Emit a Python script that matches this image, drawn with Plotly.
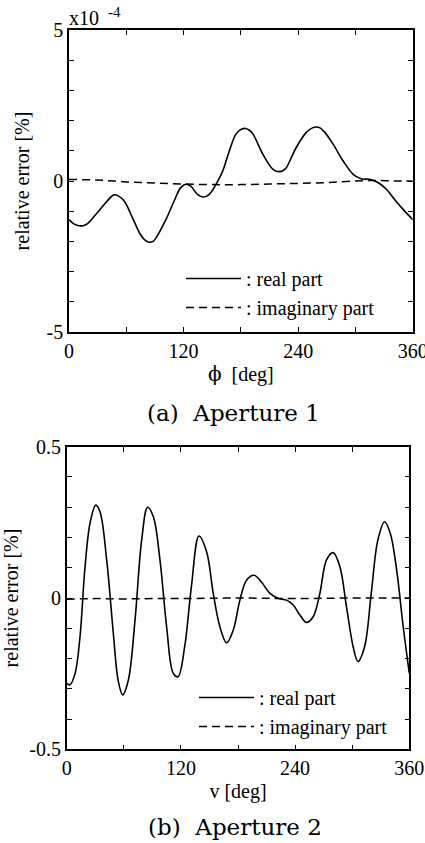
import plotly.graph_objects as go

# ---------------- data ----------------
# (a) Aperture 1, values in units of 1e-4 %
phi_real = [0, 5, 10.5, 15, 19, 28, 38.5, 47, 52, 58, 66.5, 75, 80, 84, 88, 91, 101.5, 110, 117,
            122.5, 127.5, 134.5, 140.7, 147, 154, 161, 168, 175, 181, 185, 189, 192.6, 203, 212,
            216, 220.6, 224, 227.6, 238, 248.6, 255, 259, 263, 268, 276.6, 287, 297.6, 304, 308,
            315, 324, 332.7, 341, 350, 360]
a_real = [-1.28, -1.42, -1.48, -1.48, -1.42, -1.11, -0.72, -0.46, -0.5, -0.67, -1.22, -1.78,
          -1.97, -2.03, -2.0, -1.89, -1.28, -0.67, -0.22, -0.11, -0.17, -0.44, -0.53, -0.44,
          -0.11, 0.33, 1.0, 1.56, 1.72, 1.74, 1.68, 1.56, 0.89, 0.44, 0.34, 0.31, 0.34, 0.44,
          1.11, 1.61, 1.76, 1.79, 1.76, 1.61, 1.22, 0.67, 0.22, 0.1, 0.06, 0.06, -0.06, -0.28,
          -0.61, -0.94, -1.28]
phi_imag = [0, 30, 60, 90, 120, 150, 180, 210, 240, 270, 300, 320, 340, 360]
a_imag = [0.05, 0.03, -0.03, -0.07, -0.1, -0.12, -0.12, -0.1, -0.08, -0.05, 0.0, 0.02, 0.0, 0.0]

# (b) Aperture 2, values in %
v_real = [0, 3.5, 8.75, 14, 19, 24.5, 30.5, 35, 42, 49, 54, 58.8, 64.8, 71.8, 78.8, 85, 91, 98,
          105, 112, 117, 124, 131, 139, 147, 154, 161, 168, 175, 182, 189, 197, 205, 213.6, 222,
          231, 238, 245, 252, 259, 266, 273, 280, 287, 294, 301, 306, 313, 320, 327, 334, 340,
          346.7, 353.6, 360]
b_real = [-0.282, -0.287, -0.25, -0.128, 0.093, 0.247, 0.307, 0.285, 0.126, -0.117, -0.271,
          -0.32, -0.271, -0.073, 0.192, 0.30, 0.269, 0.126, -0.095, -0.249, -0.26, -0.16, 0.037,
          0.205, 0.153, 0.015, -0.095, -0.148, -0.106, -0.007, 0.059, 0.075, 0.051, 0.015,
          -0.001, -0.007, -0.023, -0.056, -0.081, -0.062, 0.015, 0.126, 0.15, 0.104, -0.029,
          -0.161, -0.21, -0.161, 0.015, 0.192, 0.252, 0.214, 0.093, -0.095, -0.249]
v_imag = [0, 30, 60, 90, 120, 150, 180, 210, 240, 270, 300, 330, 360]
b_imag = [-0.004, -0.002, -0.003, -0.002, -0.002, -0.001, 0.0, -0.001, -0.002, -0.001, 0.0, 0.0, 0.0]

x_ticks = [0, 120, 240, 360]
names = [": real part", ": imaginary part"]

W, H = 425, 843
FONT = "Liberation Serif"
CAP_FONT = "DejaVu Serif"


def px_x(p):
    return p / W


def px_y(p):
    return 1 - p / H


solid = dict(color="black", width=1.6, shape="spline", smoothing=1.0)
dashed = dict(color="black", width=1.5, dash="8px,5px", shape="spline")

fig = go.Figure()
fig.add_trace(go.Scatter(x=phi_real, y=a_real, mode="lines", name=names[0], line=solid, xaxis="x", yaxis="y", legend="legend"))
fig.add_trace(go.Scatter(x=phi_imag, y=a_imag, mode="lines", name=names[1], line=dashed, xaxis="x", yaxis="y", legend="legend"))
fig.add_trace(go.Scatter(x=v_real, y=b_real, mode="lines", name=names[0], line=solid, xaxis="x2", yaxis="y2", legend="legend2"))
fig.add_trace(go.Scatter(x=v_imag, y=b_imag, mode="lines", name=names[1], line=dashed, xaxis="x2", yaxis="y2", legend="legend2"))

axis_common = dict(showline=True, linecolor="black", linewidth=1.6, mirror="allticks",
                   ticks="inside", ticklen=5, tickwidth=1.2, tickcolor="black", showgrid=False,
                   zeroline=False, automargin=False, ticklabeloverflow="allow",
                   tickfont=dict(family=FONT, size=20, color="black"))
xt = list(range(0, 361, 60))
xt_text = [str(v) if v in x_ticks else "" for v in xt]

fig.update_layout(
    width=W, height=H, margin=dict(l=0, r=0, t=0, b=0),
    paper_bgcolor="white", plot_bgcolor="white",
    font=dict(family=FONT, color="black", size=20),
    xaxis=dict(axis_common, domain=[px_x(69), px_x(412.7)], range=[0, 360], tickvals=xt,
               ticktext=xt_text, anchor="y",
               title=dict(text="<span style=\"font-family:'DejaVu Serif'\">ϕ</span>\u00a0\u00a0[deg]",
                          font=dict(family=FONT, size=20, color="black"), standoff=6)),
    yaxis=dict(axis_common, domain=[px_y(332), px_y(30)], range=[-5, 5], tickvals=list(range(-5, 6)),
               ticktext=["-5", "", "", "", "", "0", "", "", "", "", "5"], anchor="x",
               title=dict(text="relative error [%]", font=dict(family=FONT, size=20), standoff=12)),
    xaxis2=dict(axis_common, domain=[px_x(66.7), px_x(409.3)], range=[0, 360], tickvals=xt,
                ticktext=xt_text, anchor="y2",
                title=dict(text="v [deg]", font=dict(family=FONT, size=20), standoff=6)),
    yaxis2=dict(axis_common, domain=[px_y(749.3), px_y(446.7)], range=[-0.5, 0.5],
                tickvals=[-0.5, -0.4, -0.3, -0.2, -0.1, 0, 0.1, 0.2, 0.3, 0.4, 0.5],
                ticktext=["-0.5", "", "", "", "", "0", "", "", "", "", "0.5"], anchor="x2",
                title=dict(text="relative error [%]", font=dict(family=FONT, size=20), standoff=12)),
    legend=dict(x=px_x(181), y=px_y(259), xanchor="left", yanchor="top", bgcolor="rgba(0,0,0,0)",
                font=dict(family=FONT, size=20), itemwidth=55, tracegroupgap=0),
    legend2=dict(x=px_x(194), y=px_y(678), xanchor="left", yanchor="top", bgcolor="rgba(0,0,0,0)",
                 font=dict(family=FONT, size=20), itemwidth=55, tracegroupgap=0),
    showlegend=True,
    annotations=[
        dict(text="x10", x=px_x(67), y=px_y(18), xref="paper", yref="paper",
             xanchor="left", yanchor="middle", showarrow=False, font=dict(family=FONT, size=20)),
        dict(text="-4", x=px_x(106), y=px_y(12), xref="paper", yref="paper",
             xanchor="left", yanchor="middle", showarrow=False, font=dict(family=FONT, size=15)),
        dict(text="(a)\u00a0 Aperture 1", x=px_x(234), y=px_y(413), xref="paper", yref="paper",
             xanchor="center", yanchor="middle", showarrow=False, font=dict(family=CAP_FONT, size=23)),
        dict(text="(b)\u00a0 Aperture 2", x=px_x(235), y=px_y(827), xref="paper", yref="paper",
             xanchor="center", yanchor="middle", showarrow=False, font=dict(family=CAP_FONT, size=23)),
    ],
)

fig.write_html("out.html")
